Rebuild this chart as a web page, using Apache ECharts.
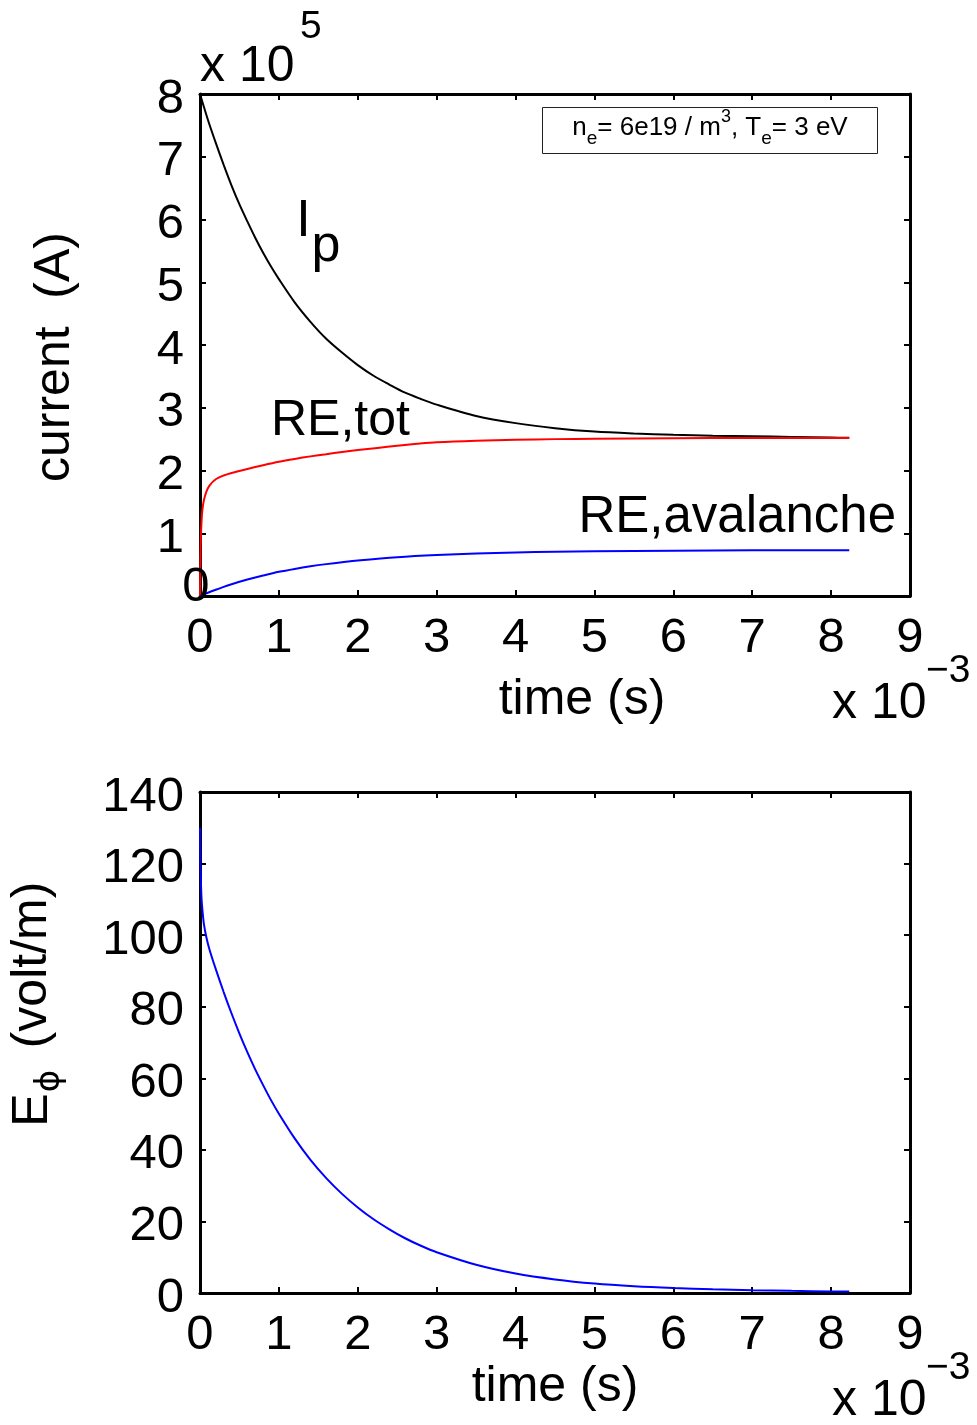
<!DOCTYPE html>
<html>
<head>
<meta charset="utf-8">
<script src="https://cdn.jsdelivr.net/npm/echarts@6/dist/echarts.min.js"></script>
<style>
html, body { margin: 0; padding: 0; background: #ffffff; }
#chart { width: 977px; height: 1425px; }
</style>
</head>
<body>
<div id="chart"></div>
<script>
// ---- Data (time in units of 1e-3 s, current in units of 1e5 A, field in V/m) ----
const ipTime = [0, 0.1, 0.2, 0.3, 0.4, 0.5, 0.6, 0.7, 0.8, 0.9, 1.0, 1.2, 1.4, 1.6, 1.8, 2.0, 2.2, 2.4, 2.6, 2.8, 3.0, 3.5, 4.0, 4.5, 5.0, 5.5, 6.0, 6.5, 7.0, 7.5, 8.0, 8.23];
const ipCurrent = [8.0, 7.59, 7.22, 6.87, 6.54, 6.24, 5.97, 5.71, 5.47, 5.25, 5.05, 4.68, 4.37, 4.10, 3.88, 3.68, 3.51, 3.37, 3.24, 3.14, 3.05, 2.87, 2.755, 2.675, 2.62, 2.59, 2.57, 2.555, 2.545, 2.535, 2.525, 2.52];

const reTotTime = [0, 0.005, 0.01, 0.02, 0.03, 0.05, 0.08, 0.12, 0.2, 0.3, 0.4, 0.6, 0.8, 1.0, 1.2, 1.4, 1.6, 1.8, 2.0, 2.25, 2.5, 2.75, 3.0, 3.5, 4.0, 4.5, 5.0, 6.0, 7.0, 8.23];
const reTotCurrent = [0, 0.55, 0.9, 1.2, 1.37, 1.53, 1.66, 1.76, 1.86, 1.92, 1.96, 2.025, 2.085, 2.14, 2.185, 2.225, 2.26, 2.295, 2.325, 2.36, 2.395, 2.425, 2.45, 2.475, 2.49, 2.50, 2.507, 2.515, 2.518, 2.518];

const reAvTime = [0, 0.1, 0.2, 0.3, 0.4, 0.5, 0.6, 0.8, 1.0, 1.2, 1.4, 1.6, 1.8, 2.0, 2.5, 3.0, 3.5, 4.0, 4.5, 5.0, 6.0, 7.0, 8.23];
const reAvCurrent = [0, 0.052, 0.10, 0.145, 0.187, 0.226, 0.262, 0.326, 0.385, 0.432, 0.473, 0.508, 0.538, 0.565, 0.617, 0.652, 0.676, 0.693, 0.705, 0.714, 0.723, 0.728, 0.73];

const eTime = [0, 0.005, 0.01, 0.02, 0.035, 0.05, 0.08, 0.12, 0.2, 0.3, 0.4, 0.5, 0.6, 0.7, 0.8, 0.9, 1.0, 1.2, 1.4, 1.6, 1.8, 2.0, 2.2, 2.4, 2.6, 2.8, 3.0, 3.5, 4.0, 4.5, 5.0, 5.5, 6.0, 6.5, 7.0, 7.5, 8.0, 8.23];
const eField = [130, 121, 116, 110, 106, 103, 99.5, 96, 90.5, 84.1, 78.1, 72.5, 67.3, 62.5, 58.1, 53.9, 50.1, 43.2, 37.2, 32.1, 27.7, 23.9, 20.6, 17.8, 15.3, 13.2, 11.4, 7.9, 5.45, 3.8, 2.65, 1.9, 1.4, 1.05, 0.8, 0.6, 0.45, 0.4];

// Axis ranges / ticks
const timeAxis = { min: 0, max: 9, interval: 1 };
const currentAxis = { min: 0, max: 8, interval: 1 };
const fieldAxis = { min: 0, max: 140, interval: 20 };

// Texts
const curveLabels = { ip: ['I', 'p'], reTot: 'RE,tot', reAv: 'RE,avalanche' };
const xName = 'time (s)';
const yNameTop = 'current  (A)';

// ---- Build ----
const FONT = '"Liberation Sans", Arial, Helvetica, sans-serif';
const pairs = (xs, ys) => xs.map((x, i) => [x, ys[i]]);

function axisCommon(showLabels, extra) {
  return Object.assign({
    type: 'value',
    axisLine: { show: true, onZero: false, lineStyle: { color: '#000', width: 3 } },
    axisTick: { show: true, inside: true, length: 6, lineStyle: { color: '#000', width: 2 } },
    splitLine: { show: false },
    axisLabel: { show: showLabels, color: '#000', fontSize: 49, fontFamily: FONT },
    name: ''
  }, extra);
}

const xLabel = { show: true, color: '#000', fontSize: 49, fontFamily: FONT, margin: 18 };
const yLabel = { show: true, color: '#000', fontSize: 49, fontFamily: FONT, margin: 16, verticalAlign: 'top', lineHeight: 10 };

const xAxes = [
  axisCommon(true, Object.assign({ gridIndex: 0, position: 'bottom' }, timeAxis, { axisLabel: xLabel })),
  axisCommon(false, Object.assign({ gridIndex: 0, position: 'top' }, timeAxis)),
  axisCommon(true, Object.assign({ gridIndex: 1, position: 'bottom' }, timeAxis, { axisLabel: xLabel })),
  axisCommon(false, Object.assign({ gridIndex: 1, position: 'top' }, timeAxis))
];
const yAxes = [
  axisCommon(true, Object.assign({ gridIndex: 0, position: 'left' }, currentAxis, {
    axisLabel: Object.assign({}, yLabel, { formatter: v => (v === 0 ? '' : String(v)) })
  })),
  axisCommon(false, Object.assign({ gridIndex: 0, position: 'right' }, currentAxis)),
  axisCommon(true, Object.assign({ gridIndex: 1, position: 'left' }, fieldAxis, { axisLabel: yLabel })),
  axisCommon(false, Object.assign({ gridIndex: 1, position: 'right' }, fieldAxis))
];

function lineSeries(name, data, color, xi, yi) {
  return {
    name, type: 'line', data, xAxisIndex: xi, yAxisIndex: yi,
    showSymbol: false, symbol: 'none', smooth: 0.3,
    lineStyle: { color, width: 2 }, itemStyle: { color }, z: 1
  };
}

function txt(text, x, y, size, opts) {
  opts = opts || {};
  return {
    type: 'text', x, y, rotation: opts.rotation || 0, z: 100,
    style: {
      text, fill: '#000', fontSize: size, fontFamily: opts.family || FONT,
      align: opts.align || 'center', textAlign: opts.align || 'center',
      verticalAlign: 'middle', textVerticalAlign: 'middle',
      rich: opts.rich
    }
  };
}

const graphics = [
  // exponent labels
  txt('x 10', 200, 67, 50, { align: 'left' }),
  txt('5', 300, 27, 39, { align: 'left' }),
  txt('x 10', 832, 704, 50, { align: 'left' }),
  txt('\u22123', 926, 671, 39, { align: 'left' }),
  txt('x 10', 832, 1401, 50, { align: 'left' }),
  txt('\u22123', 926, 1368, 39, { align: 'left' }),
  // axis titles
  txt(xName, 582, 700, 50),
  txt(xName, 555, 1387, 50),
  txt(yNameTop, 55, 357, 50, { rotation: Math.PI / 2 }),
  txt('E', 33, 1110, 50, { rotation: Math.PI / 2 }),
  txt('\u03d5', 50, 1081, 34, { rotation: Math.PI / 2, family: '"DejaVu Sans", "Liberation Sans", sans-serif' }),
  txt('(volt/m)', 32, 965, 50, { rotation: Math.PI / 2 }),
  // zero tick label of the upper panel
  txt('0', 196, 587, 49),
  // curve labels
  txt(curveLabels.ip[0], 303.5, 222, 52),
  txt(curveLabels.ip[1], 326, 247, 52),
  txt(curveLabels.reTot, 271, 421, 50, { align: 'left' }),
  txt(curveLabels.reAv, 896, 518, 51, { align: 'right' }),
  // annotation box
  {
    type: 'rect', z: 90,
    shape: { x: 542.5, y: 107.5, width: 335, height: 46 },
    style: { fill: '#fff', stroke: '#222', lineWidth: 1 }
  },
  txt('{m|n}{s|e}{m|= 6e19 / m}{p|3}{m|, T}{s|e}{m|= 3 eV}', 710, 128, 26, {
    rich: {
      m: { fontSize: 26, fontFamily: FONT, fill: '#000', color: '#000', lineHeight: 40, verticalAlign: 'middle' },
      s: { fontSize: 19, fontFamily: FONT, fill: '#000', color: '#000', lineHeight: 24, verticalAlign: 'bottom' },
      p: { fontSize: 18, fontFamily: FONT, fill: '#000', color: '#000', lineHeight: 24, verticalAlign: 'top' }
    }
  })
];

const option = {
  animation: false,
  backgroundColor: '#ffffff',
  textStyle: { fontFamily: FONT },
  grid: [
    { left: 200, top: 94, width: 710, height: 502, containLabel: false },
    { left: 200, top: 792, width: 710, height: 501, containLabel: false }
  ],
  xAxis: xAxes,
  yAxis: yAxes,
  series: [
    lineSeries('Ip', pairs(ipTime, ipCurrent), '#000000', 0, 0),
    lineSeries('RE,tot', pairs(reTotTime, reTotCurrent), '#ff0000', 0, 0),
    lineSeries('RE,avalanche', pairs(reAvTime, reAvCurrent), '#0000ff', 0, 0),
    lineSeries('E_phi', pairs(eTime, eField), '#0000ff', 2, 2)
  ],
  graphic: graphics
};

const chart = echarts.init(document.getElementById('chart'), null, { renderer: 'canvas' });
chart.setOption(option);
</script>
</body>
</html>
